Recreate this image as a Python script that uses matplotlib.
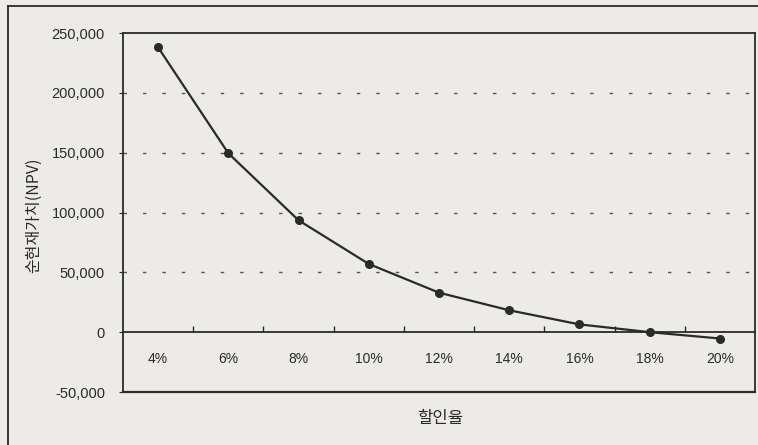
import numpy as np
import matplotlib
matplotlib.use('Agg')
import matplotlib.pyplot as plt
from matplotlib.lines import Line2D
from matplotlib.ticker import FuncFormatter

plt.rcParams['font.family'] = ['Liberation Sans', 'Noto Sans CJK KR', 'DejaVu Sans']

rates = ['4%', '6%', '8%', '10%', '12%', '14%', '16%', '18%', '20%']
npv = [238000, 149500, 93500, 57000, 33000, 18300, 6500, 0, -5300]
y_ticks = [-50000, 0, 50000, 100000, 150000, 200000, 250000]

bg = '#ecebe8'
ink = '#2a2a2a'

fig = plt.figure(figsize=(7.58, 4.45), dpi=100, facecolor=bg)
ax = fig.add_axes([123 / 758, 1 - 392 / 445, (755 - 123) / 758, (392 - 33) / 445])
ax.set_facecolor(bg)

x = np.arange(len(rates))
ax.plot(x, npv, color=ink, linewidth=1.6, marker='o', markersize=5.5,
        markerfacecolor=ink, markeredgecolor=ink, zorder=3)

ax.set_xlim(-0.5, len(rates) - 0.5)
ax.set_ylim(y_ticks[0], y_ticks[-1])
ax.set_yticks(y_ticks)
ax.yaxis.set_major_formatter(FuncFormatter(lambda v, p: f'{int(v):,}'))
ax.tick_params(axis='y', direction='out', length=3, width=0.8, color=ink,
               labelsize=10.5, labelcolor=ink, pad=10)

# gridlines for positive values only (dotted)
for v in y_ticks[2:-1]:
    ax.axhline(v, color='#555555', linewidth=1.0, linestyle=(0, (2.5, 11.5)), zorder=1)

# category axis sits on zero
ax.spines['bottom'].set_position(('data', 0))
ax.axhline(y_ticks[0], color=ink, linewidth=1.6, clip_on=False)
for s in ['left', 'top', 'right', 'bottom']:
    ax.spines[s].set_color(ink)
    ax.spines[s].set_linewidth(1.3)

ax.set_xticks(x)
ax.set_xticklabels(rates)
ax.set_xticks(x[:-1] + 0.5, minor=True)
ax.tick_params(axis='x', which='major', length=0, labelsize=10, labelcolor=ink, pad=14)
ax.tick_params(axis='x', which='minor', direction='in', length=4, width=1.0, color=ink)

ax.set_ylabel('순현재가치(NPV)', fontsize=11.5, color=ink, family=['Noto Sans CJK KR'])
ax.yaxis.set_label_coords(-0.128, (392 - 215) / 359)
fig.text(440 / 758, 1 - 418 / 445, '할인율', fontsize=12, color=ink,
         family=['Noto Sans CJK KR'], ha='center', va='center')

# outer chart frame
fig.add_artist(Line2D([8 / 758, 8 / 758], [0, 1 - 6 / 445], transform=fig.transFigure,
                      color=ink, linewidth=1.3))
fig.add_artist(Line2D([8 / 758, 1], [1 - 6 / 445, 1 - 6 / 445], transform=fig.transFigure,
                      color=ink, linewidth=1.3))

fig.savefig('out.png', dpi=100, facecolor=bg)
